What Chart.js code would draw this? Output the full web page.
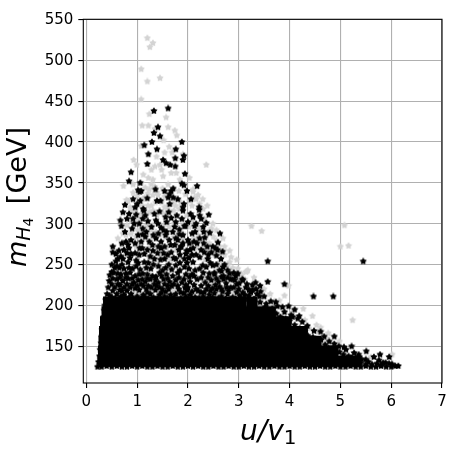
<!DOCTYPE html>
<html>
<head>
<meta charset="utf-8">
<style>
  body { margin: 0; background: #fff; }
</style>
<script src="https://cdn.jsdelivr.net/npm/chart.js@4"></script>
</head>
<body>
<canvas id="chart" width="450" height="450"></canvas>
<script>
var xTicks = [0, 1, 2, 3, 4, 5, 6, 7];
var yTicks = [150, 200, 250, 300, 350, 400, 450, 500, 550];

// light grey points, [u/v1, mH4]
var greyPoints = [
  [1.2,527],[1.31,521],[1.25,516],[1.08,489],[1.2,474],[1.45,478],[1.08,452],[1.24,434],[1.57,430],[1.1,420],
  [1.22,420],[1.61,418],[1.74,414],[1.78,408],[1.35,416],[1.52,402],[1.08,395],[1.63,394],[1.69,387],[1.54,387],
  [0.93,378],[0.99,372],[2.36,372],[1.9,385],[1.38,382],[1.45,372],[1.35,370],[1.28,366],[1.12,360],[1.22,356],
  [1.31,354],[1.48,366],[1.51,358],[1.67,362],[1.77,362],[2.03,356],[0.73,346],[0.92,348],[1.08,350],[1.28,348],
  [1.61,348],[2.1,342],[1.84,354],[0.92,338],[1.15,332],[1.39,338],[0.79,329],[2.13,332],[2.29,330],[2.03,328],
  [2.2,335],[0.86,320],[1.28,322],[1.58,320],[1.21,337],[1.31,335],[1.41,335],[1.11,330],[0.82,328],[1.54,333],
  [1.7,328],[1.76,322],[1.21,322],[1.54,320],[0.88,316],[1.31,316],[1.83,318],[1.63,316],[1.01,306],[1.18,310],
  [0.88,304],[0.62,282],[1.27,292],[1.01,292],[1.37,290],[0.88,288],[1.63,296],[1.44,286],[0.72,288],[1.73,272],
  [1.57,259],[1.41,249],[1.63,245],[2.1,339],[2.16,330],[2.23,324],[3.25,297],[3.45,291],[2.49,300],[2.46,294],
  [2.69,282],[2.82,267],[2.56,292],[2.39,290],[2.72,272],[2.96,256],[2.85,259],[2.82,253],[3.14,241],[3.18,243],
  [2.62,263],[2.98,245],[2.29,270],[2.07,261],[2.42,276],[2.2,286],[1.9,288],[2.78,249],[3.05,237],[3.25,225],
  [5.08,298],[5.0,272],[5.16,273],[5.24,182],[4.27,196],[4.45,187],[3.98,224],[3.9,212],[4.53,176],[4.61,173],
  [4.76,166],[6.02,140],[3.16,242],[3.05,239],[3.7,205],[4.38,172],[5.6,137],
  [1.16,344],[1.24,342],[1.35,345],[1.5,343],[1.56,338],[1.82,340],[1.95,336],[1.0,334],[1.1,322],[1.36,326],
  [1.48,326],[1.68,324],[1.86,326],[2.08,322],[2.3,318],[2.38,322],[0.96,316],[1.08,312],[1.24,314],[1.39,310],
  [1.52,312],[1.72,316],[1.98,310],[2.08,304],[2.32,306],[0.8,298],[0.95,300],[1.18,298],[1.3,298],[1.52,298],
  [1.72,300],[1.88,304],[2.02,296],[2.22,294],[2.56,280],[0.78,286],[0.98,284],[1.18,284],[1.3,284],[1.56,284],
  [1.72,284],[1.9,280],[2.12,282],[2.36,284],[2.5,284],[2.62,272],[0.7,274],[0.98,272],[1.22,270],[1.4,272],
  [1.58,270],[1.78,268],[2.18,270],[2.38,268],[2.52,262],[2.72,262],[0.78,262],[1.02,260],[1.24,258],[1.46,260],
  [1.66,256],[1.86,258],[2.02,252],[2.34,256],[2.6,252],[2.88,246],[3.0,234],[3.12,232],[3.3,234],[3.36,222],
  [3.5,220],[3.62,214],[3.8,206],[4.06,192],[4.3,182],[4.56,168],[4.72,160],[4.98,156],
  [0.7,232],[0.92,219],[1.14,236],[1.3,218],[1.52,240],[1.72,219],[1.9,234],[2.1,218],[2.3,232],[2.5,219],
  [2.72,220],[2.9,218],[1.0,214],[1.6,214],[2.2,215],[2.62,214]
];

// black points that stand apart from the solid block
var blackPoints = [
  [1.33,438],[1.61,441],[1.41,418],[1.33,411],[1.45,407],[1.88,400],[1.29,400],[1.14,396],[1.39,391],[1.76,391],
  [1.22,385],[1.92,383],[1.75,380],[1.9,378],[1.51,378],[1.57,374],[1.2,373],[1.65,372],[1.75,370],[0.88,363],
  [1.94,361],[0.84,352],[1.88,349],[1.92,347],[2.18,346],[1.02,341],[1.08,340],[1.71,343],[1.67,340],[1.64,336],
  [1.61,332],[1.71,332],[0.92,330],[1.06,328],[1.0,324],[1.39,328],[1.92,324],[1.64,324],[0.76,323],[1.9,320],
  [2.22,320],[1.12,318],[1.05,339],[1.13,316],[1.44,315],[0.8,306],[0.67,304],[0.69,297],[0.98,311],[1.11,306],
  [1.21,303],[1.37,304],[1.41,300],[1.58,302],[1.56,308],[1.78,310],[1.67,307],[1.11,294],[1.47,295],[1.83,293],
  [1.95,297],[0.9,294],[1.58,290],[1.11,287],[1.83,287],[1.7,290],[0.88,280],[0.78,278],[0.52,272],[0.52,265],
  [0.64,267],[0.82,274],[1.08,278],[1.24,278],[1.37,282],[1.47,278],[1.63,280],[1.8,280],[2.0,280],[0.88,263],
  [1.05,270],[1.14,263],[1.31,267],[1.47,270],[1.67,265],[1.86,272],[0.72,257],[0.62,257],[0.56,246],[0.98,255],
  [1.14,253],[1.34,257],[1.54,257],[1.76,257],[1.96,263],[0.82,253],[0.65,246],[0.91,245],[1.27,245],[1.5,243],
  [1.76,249],[1.93,247],[0.52,233],[0.62,239],[0.78,239],[1.11,239],[1.37,235],[1.9,316],[2.22,317],[2.05,312],
  [2.41,311],[2.23,310],[2.26,306],[2.16,300],[2.13,297],[2.36,301],[1.93,297],[2.14,290],[2.31,290],[2.43,289],
  [2.63,288],[2.23,282],[2.33,283],[2.03,276],[2.59,277],[2.31,276],[2.49,272],[2.1,270],[1.87,272],[1.97,267],
  [2.46,265],[2.23,259],[2.56,261],[2.65,257],[3.57,254],[2.39,257],[1.93,257],[2.1,253],[2.49,249],[2.29,249],
  [2.69,247],[2.23,245],[2.82,239],[2.98,239],[2.62,243],[2.42,239],[3.08,231],[2.92,231],[3.57,229],[3.33,228],
  [3.27,225],[3.42,224],[2.03,235],[2.75,227],[5.45,254],[3.9,226],[4.47,211],[4.86,211],[3.98,199],[4.1,195],
  [4.19,187],[4.88,162],[5.51,144],[5.78,140],[5.96,137],[5.22,150],[5.07,149],[5.36,140],[3.07,232],[3.5,211],
  [3.43,217],[3.73,204],[3.86,198],
  [0.94,300],[1.02,286],[1.18,290],[1.3,274],[1.42,288],[1.54,272],[1.74,274],[1.9,286],[2.08,288],[0.74,268],
  [0.96,276],[1.2,268],[1.4,264],[1.6,262],[1.84,262],[2.04,268],[2.18,276],[2.38,272],[0.58,254],[0.7,250],
  [0.86,258],[1.04,262],[1.22,252],[1.42,248],[1.62,250],[1.84,252],[2.02,258],[2.16,262],[2.32,265],[2.56,250],
  [0.5,250],[0.6,248],[0.74,245],[0.84,246],[0.98,248],[1.06,244],[1.18,246],[1.32,250],[1.56,246],[1.68,244],
  [1.84,243],[2.02,245],[2.14,243],[2.36,247],[2.78,243],[2.9,240],[0.54,240],[0.68,238],[0.86,240],[0.96,236],
  [1.04,238],[1.2,238],[1.3,236],[1.44,240],[1.58,238],[1.7,236],[1.8,240],[1.96,238],[2.12,236],[2.3,240],
  [2.52,238],[2.7,236],[0.6,232],[0.72,230],[0.82,233],[0.94,228],[1.02,231],[1.16,229],[1.26,232],[1.42,228],
  [1.52,232],[1.64,229],[1.76,231],[1.88,228],[2.04,229],[2.18,232],[2.34,228],[2.46,231],[2.6,229],[2.84,232],
  [2.96,226],[3.16,226],[3.34,220],[0.5,226],[0.66,225],[0.8,226],[1.08,226],[1.34,226],[1.6,224],[1.96,225],
  [2.26,224],[2.54,225],[2.7,232],[3.08,216],[3.2,212],[3.3,208],[3.42,204],[3.36,214],[3.52,198],[3.58,193],
  [3.66,196],[3.74,190],[3.82,186],[3.92,184],[4.0,181],[4.1,176],[4.06,186],[4.2,172],[4.3,168],[4.36,163],
  [4.46,161],[4.54,156],[4.62,158],[4.7,152],[4.76,148],[4.86,146],[4.98,143],[5.06,140],[5.16,138],[5.22,136],
  [5.3,136],[5.42,134],
  [0.46,212],[0.52,218],[0.6,214],[0.66,219],[0.74,213],[0.8,218],[0.88,214],[0.96,221],[1.04,219],[1.12,213],
  [1.18,220],[1.26,214],[1.36,219],[1.44,213],[1.5,220],[1.56,217],[1.66,213],[1.76,214],[1.82,220],[1.92,215],
  [1.98,219],[2.04,213],[2.16,220],[2.26,216],[2.36,220],[2.42,213],[2.56,220],[2.68,217],[2.78,214],[2.84,222],
  [2.96,216],[3.02,212],[3.12,213],[3.24,216],[0.62,226],[0.74,222],[0.86,222],[1.12,224],[1.22,224],[1.28,222],
  [1.44,222],[1.54,226],[1.68,224],[1.8,224],[2.0,222],[2.12,225],[2.4,224],[2.48,221],[2.62,223],[2.76,222],
  [0.58,263],[0.68,260],[0.7,276],[0.8,264],[0.76,290],[0.84,270],[0.96,264],[1.02,252],[1.1,270],[1.16,284],
  [1.26,260],[1.32,286],[1.42,272],[1.46,256],[1.52,264],[1.56,286],[1.66,274],[1.72,258],[1.76,282],[1.82,268],
  [1.9,276],[1.98,252],[2.08,262],[2.12,278],[2.26,268],[2.4,262],[2.44,252],[2.52,240],[2.58,268],[2.66,242],
  [2.72,250],[2.88,232],[0.72,314],[0.84,312],[0.92,306],[1.04,300],[1.16,310],[1.28,296],[1.34,312],[1.52,292],
  [1.62,314],[1.74,296],[1.88,306],[2.0,302],[2.1,308],[2.3,296],[2.54,270],[2.68,266],[1.06,350],[1.36,342],
  [1.46,328],[1.54,340],[1.8,330],[1.98,340],[2.06,330],[0.96,320],[1.2,331],[1.76,302],
  [0.5,210],[0.57,209],[0.68,211],[0.78,209],[0.84,210],[0.92,209],[1.0,211],[1.08,209],[1.16,210],[1.22,208],
  [1.32,210],[1.4,209],[1.48,208],[1.54,211],[1.6,209],[1.72,210],[1.86,209],[1.96,211],[2.08,209],[2.14,210],
  [2.22,209],[2.3,211],[2.38,208],[2.48,210],[2.6,209],[2.66,211],[2.74,208],[2.88,210],[2.94,208],[3.06,208],
  [0.56,222],[0.7,218],[0.9,226],[1.0,224],[1.2,216],[1.38,224],[1.48,216],[1.62,220],[1.72,226],[1.86,216],
  [1.94,222],[2.08,217],[2.2,218],[2.32,216],[2.44,218],[2.52,215],[2.66,220],[2.8,218],[2.9,222],[3.0,220],
  [0.66,234],[0.78,234],[0.9,233],[1.1,232],[1.2,233],[1.36,231],[1.48,236],[1.6,233],[1.82,234],[1.92,232],
  [2.08,238],[2.26,234],[2.4,234],[2.56,233],[2.66,235],[2.78,234],[2.94,236],[3.2,219],[3.12,208]
];

// stars along the outline of the solid block
var edgePoints = [
  [0.22,125],[0.24,131],[0.26,138],[0.27,146],[0.29,154],[0.3,162],[0.31,170],[0.33,178],[0.34,186],[0.35,194],
  [0.36,200],[0.4,196],[0.38,207],[0.41,214],[0.43,222],[0.45,230],[0.46,237],[0.5,241],
  [0.3,125],[0.4,126],[0.5,125],[0.6,126],[0.7,125],[0.8,125],[0.9,126],[1.0,125],[1.1,126],[1.2,125],
  [1.3,125],[1.4,126],[1.5,125],[1.6,125],[1.7,126],[1.8,125],[1.9,125],[2.0,126],[2.1,125],[2.2,126],
  [2.3,125],[2.4,125],[2.5,126],[2.6,125],[2.7,125],[2.8,126],[2.9,125],[3.0,125],[3.1,126],[3.2,125],
  [3.3,125],[3.4,126],[3.5,125],[3.6,125],[3.7,126],[3.8,125],[3.9,125],[4.0,126],[4.1,125],[4.2,125],
  [4.3,126],[4.4,125],[4.5,125],[4.6,126],[4.7,125],[4.8,125],[4.9,126],[5.0,125],[5.1,125],[5.2,126],
  [5.3,125],[5.4,125],[5.5,126],[5.6,125],[5.7,125],[5.8,126],[5.9,125],[6.0,125],[6.08,126],[6.14,126],
  [3.01,227],[3.14,222],[3.27,219],[3.41,211],[3.54,202],[3.63,205],[3.76,199],[3.9,192],[4.03,188],[4.16,184],
  [4.25,180],[4.35,175],[4.48,169],[4.61,168],[4.68,162],[4.78,156],[4.88,153],[4.97,150],[5.11,146],[5.27,142],
  [5.37,137],[5.5,134],[5.66,137],[5.76,133],[5.89,130],[6.02,128],[5.4,130],[5.5,128],[5.55,131],[5.62,128],
  [5.72,129],[5.8,127],[5.84,130],[5.96,129]
];

// overplotted area where single stars cannot be told apart: rows of mH4, each with its u/v1 positions
var coreRowsM = [132, 144, 156, 168, 180, 192, 204];
var coreRowsU = [
  [0.33,0.53,0.73,0.93,1.13,1.33,1.53,1.73,1.93,2.13,2.33,2.53,2.73,2.93,3.13,3.33,3.53,3.73,3.93,4.13,4.33,4.53,4.73,4.93,5.13,5.3],
  [0.34,0.54,0.74,0.94,1.14,1.34,1.54,1.74,1.94,2.14,2.34,2.54,2.74,2.94,3.14,3.34,3.54,3.74,3.94,4.14,4.34,4.54,4.74,4.85],
  [0.35,0.55,0.75,0.95,1.15,1.35,1.55,1.75,1.95,2.15,2.35,2.55,2.75,2.95,3.15,3.35,3.55,3.75,3.95,4.15,4.35,4.52],
  [0.36,0.56,0.76,0.96,1.16,1.36,1.56,1.76,1.96,2.16,2.36,2.56,2.76,2.96,3.16,3.36,3.56,3.76,3.96,4.16,4.25],
  [0.38,0.58,0.78,0.98,1.18,1.38,1.58,1.78,1.98,2.18,2.38,2.58,2.78,2.98,3.18,3.38,3.58,3.78,3.93],
  [0.41,0.61,0.81,1.01,1.21,1.41,1.61,1.81,2.01,2.21,2.41,2.61,2.81,3.01,3.21,3.41,3.62],
  [0.44,0.64,0.84,1.04,1.24,1.44,1.64,1.84,2.04,2.24,2.44,2.64,2.84,3.04,3.26]
];

function toXY(pairs) {
  return pairs.map(function (p) { return { x: p[0], y: p[1] }; });
}

var corePoints = [];
coreRowsM.forEach(function (m, i) {
  coreRowsU[i].forEach(function (u) { corePoints.push({ x: u, y: m }); });
});

// five pointed star like the matplotlib '*' marker
function makeStar(color) {
  var c = document.createElement("canvas");
  c.width = 8;
  c.height = 8;
  var g = c.getContext("2d");
  g.fillStyle = color;
  g.beginPath();
  for (var i = 0; i < 10; i++) {
    var r = i % 2 ? 2.2 : 3.7;
    var a = -Math.PI / 2 + (i * Math.PI) / 5;
    g.lineTo(4 + r * Math.cos(a), 4 + r * Math.sin(a));
  }
  g.closePath();
  g.fill();
  return c;
}

// draw a list of [text, font, y offset] pieces one after the other
function drawPieces(ctx, pieces) {
  var x = 0;
  pieces.forEach(function (p) {
    ctx.font = p[1];
    ctx.fillText(p[0], x, p[2]);
    x += ctx.measureText(p[0]).width;
  });
}

var frameAndLabels = {
  id: "frameAndLabels",
  afterDatasetsDraw: function (chart) {
    var ctx = chart.ctx;
    var a = chart.chartArea;
    ctx.save();
    ctx.strokeStyle = "#000";
    ctx.lineWidth = 1.1;
    ctx.strokeRect(a.left, a.top, a.right - a.left, a.bottom - a.top);
    ctx.fillStyle = "#000";
    ctx.textBaseline = "alphabetic";
    ctx.textAlign = "left";

    ctx.save();
    ctx.translate(240, 440);
    drawPieces(ctx, [
      ["u/v", "italic 28px 'DejaVu Sans'", 0],
      ["1", "20px 'DejaVu Sans'", 4]
    ]);
    ctx.restore();

    ctx.save();
    ctx.translate(26, 267);
    ctx.rotate(-Math.PI / 2);
    drawPieces(ctx, [
      ["m", "italic 27px 'DejaVu Sans'", 0],
      ["H", "italic 19px 'DejaVu Sans'", 4],
      ["4", "14px 'DejaVu Sans'", 7],
      ["  ", "21px 'DejaVu Sans'", 0],
      ["[GeV]", "27px 'DejaVu Sans'", 0]
    ]);
    ctx.restore();
    ctx.restore();
  }
};

function axis(min, max, values, fit, labelOffset) {
  return {
    type: "linear",
    min: min,
    max: max,
    afterBuildTicks: function (s) {
      s.ticks = values.map(function (v) { return { value: v }; });
    },
    afterFit: fit,
    grid: { color: "#b0b0b0", lineWidth: 1.1, tickColor: "#000", tickLength: 5, tickWidth: 1.1 },
    border: { display: false },
    ticks: {
      color: "#000",
      padding: 5,
      maxRotation: 0,
      labelOffset: labelOffset,
      font: { family: "'DejaVu Sans'", size: 15 }
    }
  };
}

new Chart(document.getElementById("chart").getContext("2d"), {
  type: "scatter",
  data: {
    datasets: [
      { data: toXY(greyPoints), order: 3, pointStyle: makeStar("#d3d3d3"), pointRadius: 3 },
      { data: corePoints, order: 2, pointStyle: "rect", pointRadius: 8, backgroundColor: "#000", borderWidth: 0 },
      { data: toXY(edgePoints), order: 1, pointStyle: makeStar("#000"), pointRadius: 3 },
      { data: toXY(blackPoints), order: 0, pointStyle: makeStar("#000"), pointRadius: 3 }
    ]
  },
  options: {
    responsive: false,
    animation: false,
    layout: { padding: { top: 19.3, right: 6.7, left: 0, bottom: 0 } },
    plugins: { legend: { display: false }, tooltip: { enabled: false } },
    scales: {
      x: axis(-0.06, 7, xTicks, function (s) { s.height = 67; s.paddingLeft = 0; s.paddingRight = 0; }, 0),
      y: axis(105.2, 550, yTicks, function (s) { s.width = 83.3; s.paddingTop = 0; s.paddingBottom = 0; }, 1)
    }
  },
  plugins: [frameAndLabels]
});
</script>
</body>
</html>
